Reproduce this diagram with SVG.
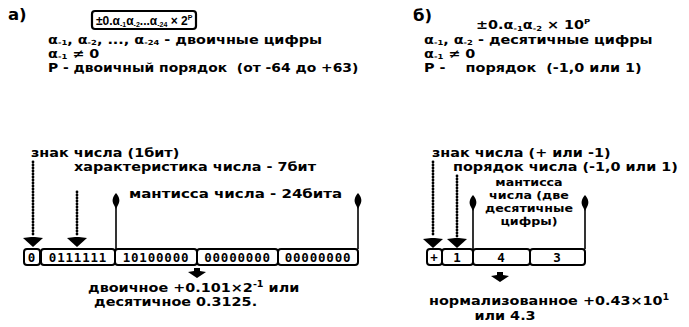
<svg xmlns="http://www.w3.org/2000/svg" width="689" height="327" viewBox="0 0 689 327">
<style>
text{font-family:"DejaVu Sans","Liberation Sans",sans-serif;font-weight:bold;font-size:12px;fill:#000}
.big{font-size:15px}
.sm{font-size:11px}
.fx{font-family:"Liberation Sans","DejaVu Sans",sans-serif;font-size:12px}
.reg{font-family:"DejaVu Sans Mono","Liberation Mono",monospace;font-size:12.5px;letter-spacing:0.8px}
.cell{fill:#fff;stroke:#000;stroke-width:2}
.frame{fill:none;stroke:#000;stroke-width:2.2}
.dot{stroke:#000;stroke-width:2.8;stroke-dasharray:0 3;stroke-linecap:round;fill:none}
.line{stroke:#000;stroke-width:1.6;fill:none}
.ah{fill:#000}
</style>
<defs>
<path id="upArr" d="M0,0 C3.5,4 4.5,8 2,12 L0,16 L-2,12 C-4.5,8 -3.5,4 0,0 Z"/>
<path id="dnHead" d="M-10,0 L-2,-1 L2,-1 L10,0 L0,9 Z"/>
<path id="bigDn" d="M-3,0 L3,0 L3,3 L9,4 L0,10 L-9,4 L-3,3 Z"/>
</defs>

<g id="label-a"><text class="big" transform="translate(8,20) scale(1.1,1)">а)</text></g>
<g id="formula-a">
<rect class="frame" x="92" y="11" width="104" height="18" rx="3"/>
<text class="fx" x="96" y="25">±0.α<tspan font-size="7" dy="2">-1</tspan><tspan dy="-2">α</tspan><tspan font-size="7" dy="2">-2</tspan><tspan dy="-2">...α</tspan><tspan font-size="7" dy="2">-24</tspan><tspan dy="-2"> × 2</tspan><tspan font-size="7" dy="-5">P</tspan></text>
</g>
<g id="desc-a">
<text transform="translate(48,44) scale(1.2,1)">α<tspan font-size="7" dy="1">-1</tspan><tspan dy="-1">, α</tspan><tspan font-size="7" dy="1">-2</tspan><tspan dy="-1">, ..., α</tspan><tspan font-size="7" dy="1">-24</tspan><tspan dy="-1"> - двоичные цифры</tspan></text>
<text transform="translate(48,58) scale(1.2,1)">α<tspan font-size="7" dy="1">-1</tspan><tspan dy="-1"> ≠ 0</tspan></text>
<text transform="translate(48,72) scale(1.157,1)" xml:space="preserve">P - двоичный порядок  (от -64 до +63)</text>
</g>

<g id="label-b"><text class="big" transform="translate(413,21) scale(1.1,1)">б)</text></g>
<g id="formula-b">
<text transform="translate(476,29) scale(1.2,1)">±0.α<tspan font-size="7" dy="2">-1</tspan><tspan dy="-2">α</tspan><tspan font-size="7" dy="2">-2</tspan><tspan dy="-2"> × 10</tspan><tspan font-size="7" dy="-5">P</tspan></text>
</g>
<g id="desc-b">
<text transform="translate(424,44) scale(1.2,1)">α<tspan font-size="7" dy="1">-1</tspan><tspan dy="-1">, α</tspan><tspan font-size="7" dy="1">-2</tspan><tspan dy="-1"> - десятичные цифры</tspan></text>
<text transform="translate(424,58) scale(1.2,1)">α<tspan font-size="7" dy="1">-1</tspan><tspan dy="-1"> ≠ 0</tspan></text>
<text transform="translate(424,72) scale(1.2,1)" xml:space="preserve">P -    порядок  (-1,0 или 1)</text>
</g>

<g id="ann-a">
<text transform="translate(31,157) scale(1.2,1)">знак числа (1бит)</text>
<text transform="translate(74,171) scale(1.2,1)">характеристика числа - 7бит</text>
<text transform="translate(129,198) scale(1.25,1)">мантисса числа - 24бита</text>
</g>

<g id="reg-a">
<rect class="cell" x="24" y="249" width="16" height="16" rx="3"/>
<rect class="cell" x="41" y="249" width="74" height="16" rx="3"/>
<rect class="cell" x="115" y="249" width="82" height="16" rx="3"/>
<rect class="cell" x="197" y="249" width="81" height="16" rx="3"/>
<rect class="cell" x="278" y="249" width="80" height="16" rx="3"/>
<text class="reg" x="32" y="262" text-anchor="middle">0</text>
<text class="reg" x="78" y="262" text-anchor="middle">0111111</text>
<text class="reg" x="156" y="262" text-anchor="middle">10100000</text>
<text class="reg" x="237.5" y="262" text-anchor="middle">00000000</text>
<text class="reg" x="318" y="262" text-anchor="middle">00000000</text>
</g>

<g id="result-a">
<text transform="translate(88,292) scale(1.2,1)">двоичное +0.101×2<tspan font-size="8" dy="-5">-1</tspan><tspan dy="5"> или</tspan></text>
<text transform="translate(94,306) scale(1.2,1)">десятичное 0.3125.</text>
</g>

<g id="ann-b">
<text transform="translate(432,157) scale(1.2,1)">знак числа (+ или -1)</text>
<text transform="translate(453,171) scale(1.2,1)">порядок числа (-1,0 или 1)</text>
<text class="sm" text-anchor="middle" transform="translate(529,186) scale(1.15,1)">мантисса</text>
<text class="sm" text-anchor="middle" transform="translate(529,199) scale(1.15,1)">числа (две</text>
<text class="sm" text-anchor="middle" transform="translate(529,212) scale(1.15,1)">десятичные</text>
<text class="sm" text-anchor="middle" transform="translate(529,225) scale(1.15,1)">цифры)</text>
</g>

<g id="reg-b">
<rect class="cell" x="427" y="249" width="15" height="16" rx="3"/>
<rect class="cell" x="442" y="249" width="31" height="16" rx="3"/>
<rect class="cell" x="473" y="249" width="57" height="16" rx="3"/>
<rect class="cell" x="530" y="249" width="55" height="16" rx="3"/>
<text class="reg" x="434.5" y="262" text-anchor="middle">+</text>
<text class="reg" x="457.5" y="262" text-anchor="middle">1</text>
<text class="reg" x="501.5" y="262" text-anchor="middle">4</text>
<text class="reg" x="557.5" y="262" text-anchor="middle">3</text>
</g>

<g id="result-b">
<text transform="translate(429,305) scale(1.2,1)">нормализованное +0.43×10<tspan font-size="8" dy="-5">1</tspan></text>
<text text-anchor="middle" transform="translate(505,320) scale(1.2,1)">или 4.3</text>
</g>

<g id="connectors">
<line class="dot" x1="33" y1="162" x2="33" y2="236"/>
<use href="#dnHead" class="ah" x="33" y="238"/>
<line class="dot" x1="77" y1="192" x2="77" y2="236"/>
<use href="#dnHead" class="ah" x="77" y="238"/>
<line class="line" x1="116" y1="206" x2="116" y2="249"/>
<use href="#upArr" class="ah" x="116" y="193"/>
<line class="line" x1="358" y1="206" x2="358" y2="249"/>
<use href="#upArr" class="ah" x="358" y="193"/>
<use href="#bigDn" class="ah" x="197" y="268"/>

<line class="dot" x1="433" y1="162" x2="433" y2="237"/>
<use href="#dnHead" class="ah" x="433" y="239"/>
<line class="dot" x1="457" y1="176" x2="457" y2="237"/>
<use href="#dnHead" class="ah" x="457" y="239"/>
<line class="line" x1="473" y1="207" x2="473" y2="249"/>
<use href="#upArr" class="ah" x="473" y="195"/>
<line class="line" x1="585" y1="207" x2="585" y2="249"/>
<use href="#upArr" class="ah" x="585" y="195"/>
<use href="#bigDn" class="ah" x="500" y="272"/>
</g>
</svg>
